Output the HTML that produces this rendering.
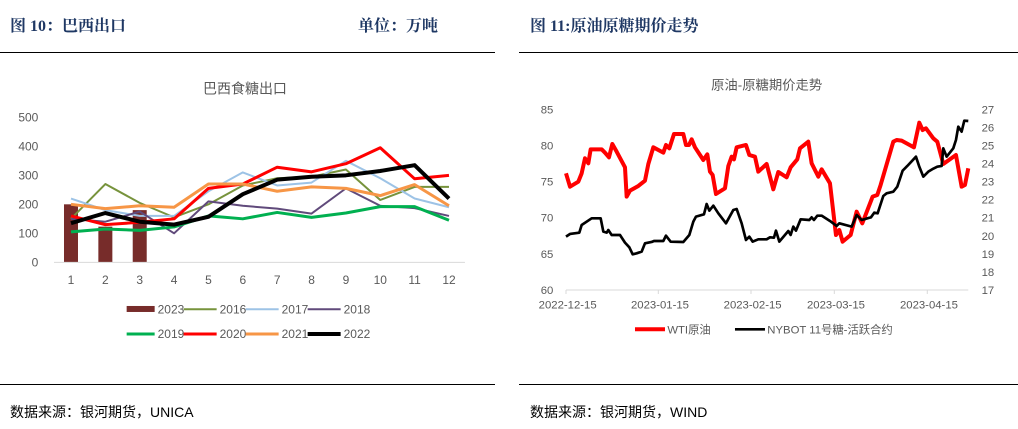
<!DOCTYPE html>
<html><head><meta charset="utf-8"><style>
body{margin:0;background:#fff;width:1018px;height:429px;overflow:hidden}
svg{display:block}
.h{font-family:"Liberation Serif","Noto Serif CJK SC",serif;font-weight:bold;font-size:16px;fill:#1f3864}
.s{font-family:"Liberation Sans","Noto Sans CJK SC",sans-serif;font-size:14px;fill:#000}
.t{font-family:"Liberation Sans","Noto Sans CJK SC",sans-serif;fill:#595959}
</style></head><body>
<svg id="sv" width="1018" height="429" xmlns="http://www.w3.org/2000/svg">
<text class="h" x="10" y="31">图 10：巴西出口</text>
<text class="h" x="358" y="31">单位：万吨</text>
<text class="h" x="530" y="31">图 11:原油原糖期价走势</text>
<line x1="0" y1="52.5" x2="495" y2="52.5" stroke="#000" stroke-width="1"/>
<line x1="519" y1="52.5" x2="1018" y2="52.5" stroke="#000" stroke-width="1"/>
<line x1="0" y1="384.5" x2="495" y2="384.5" stroke="#000" stroke-width="1"/>
<line x1="519" y1="384.5" x2="1018" y2="384.5" stroke="#000" stroke-width="1"/>
<text class="s" x="10" y="417">数据来源：银河期货，UNICA</text>
<text class="s" x="530" y="417">数据来源：银河期货，WIND</text>
<g id="L" transform="translate(0,60) scale(0.3333)"></g>
<g id="R" transform="translate(510,60) scale(0.3333)"></g>
</svg>
<script>
var NS="http://www.w3.org/2000/svg";
function el(p,n,a,txt){var e=document.createElementNS(NS,n);for(var k in a)e.setAttribute(k,a[k]);if(txt!=null)e.textContent=txt;p.appendChild(e);return e;}
var L=document.getElementById("L");
el(L,"text",{class:"t",x:735,y:100,"font-size":42,"text-anchor":"middle",fill:"#404040"},"巴西食糖出口");
for(var i=0;i<=5;i++){var y=607-i*100*0.87;el(L,"text",{class:"t",x:115,y:y+12,"font-size":36,"text-anchor":"end"},String(i*100));}
function mx(m){return 213+(m-1)*103.1}
function vy(v){return 607-v*0.87}
[200,123,180].forEach(function(v,i){el(L,"rect",{x:mx(i+1)-21,y:vy(v),width:42,height:607-vy(v),fill:"#772c2a"});});
el(L,"line",{x1:162,y1:607,x2:1395,y2:607,stroke:"#d9d9d9","stroke-width":3});
for(var m=1;m<=12;m++)el(L,"text",{class:"t",x:mx(m),y:672,"font-size":36,"text-anchor":"middle"},String(m));
var S=[
["#77933c",6,[150,270,205,155,200,265,290,295,320,215,260,260]],
["#9dc3e6",6,[220,180,160,160,245,310,265,275,350,290,220,190]],
["#604a7b",6,[150,140,175,100,210,195,185,168,255,195,187,160]],
["#00b050",9,[105,115,110,122,160,150,172,155,170,192,192,145]],
["#ff0000",9,[160,130,138,150,255,270,328,312,340,395,288,300]],
["#f79646",9,[200,185,195,190,270,270,245,260,255,230,268,195]],
["#000000",12,[135,170,140,130,157,235,285,295,300,315,335,220]]];
S.forEach(function(s){el(L,"polyline",{points:s[2].map(function(v,i){return mx(i+1)+","+vy(v)}).join(" "),fill:"none",stroke:s[0],"stroke-width":s[1],"stroke-linejoin":"round"});});
el(L,"rect",{x:380,y:738,width:84,height:18,fill:"#772c2a"});
var lg=[["2023",null],["2016",0],["2017",1],["2018",2],["2019",3],["2020",4],["2021",5],["2022",6]];
lg.forEach(function(g,i){var r=i<4?0:1,c=i%4;var x0=380+c*186,y=748+r*74;
 if(g[1]!==null)el(L,"line",{x1:x0+(c==0?0:-15),y1:y,x2:x0+84,y2:y,stroke:S[g[1]][0],"stroke-width":S[g[1]][1]});
 el(L,"text",{class:"t",x:x0+93,y:y+12,"font-size":36},g[0]);});
var R=document.getElementById("R");
el(R,"text",{class:"t",x:770,y:88,"font-size":40,"text-anchor":"middle"},"原油-原糖期价走势");
for(var i=0;i<=5;i++){var y=690-i*108.4;el(R,"text",{class:"t",x:130,y:y+12,"font-size":34,"text-anchor":"end"},String(60+i*5));}
for(var i=0;i<=10;i++){var y=690-i*54.2;el(R,"text",{class:"t",x:1415,y:y+12,"font-size":34},String(17+i));}
el(R,"line",{x1:168,y1:690,x2:1375,y2:690,stroke:"#d9d9d9","stroke-width":3});
[[168,"2022-12-15"],[445,"2023-01-15"],[723,"2023-02-15"],[973,"2023-03-15"],[1252,"2023-04-15"]].forEach(function(d){
 el(R,"line",{x1:d[0],y1:690,x2:d[0],y2:702,stroke:"#d9d9d9","stroke-width":3});
 el(R,"text",{class:"t",x:d[0]+5,y:746,"font-size":34,"text-anchor":"middle"},d[1]);});
var red="168,340 180,380 205,365 215,340 225,295 235,310 242,268 275,268 285,278 297,292 307,252 320,275 345,322 350,410 360,392 385,378 405,362 415,312 430,262 460,278 468,255 478,265 492,222 520,222 528,255 537,255 545,238 555,262 580,300 592,283 600,335 608,345 618,402 645,385 655,318 665,290 672,298 680,262 708,255 718,285 735,290 745,335 770,312 790,388 805,336 830,352 842,322 862,298 870,265 895,245 905,310 925,350 935,328 960,370 978,525 988,510 998,545 1022,525 1040,455 1057,490 1088,410 1102,405 1112,375 1150,245 1160,240 1175,242 1212,262 1228,188 1238,210 1248,205 1270,235 1282,245 1300,312 1338,285 1355,380 1365,375 1375,325";
var blk="168,530 180,522 208,518 215,495 245,475 272,475 280,515 290,518 295,510 305,525 330,525 345,548 358,562 368,583 380,580 395,575 405,550 425,546 432,543 460,543 468,527 482,545 520,546 538,525 550,485 558,470 582,463 590,432 598,452 610,437 625,460 648,490 670,450 680,447 695,490 708,540 718,530 728,545 745,538 770,538 780,532 792,533 798,512 808,545 835,513 842,525 850,500 858,512 872,478 898,480 905,472 912,480 922,467 935,467 960,483 980,498 988,490 1025,500 1040,465 1055,480 1083,472 1093,458 1103,460 1120,408 1130,400 1150,395 1162,380 1178,332 1192,318 1218,290 1228,320 1240,350 1255,335 1270,326 1282,320 1295,318 1300,265 1310,290 1330,265 1338,240 1345,200 1355,215 1363,182 1375,183";
el(R,"polyline",{points:red,fill:"none",stroke:"#ff0000","stroke-width":12,"stroke-linejoin":"round"});
el(R,"polyline",{points:blk,fill:"none",stroke:"#000","stroke-width":8,"stroke-linejoin":"round"});
el(R,"line",{x1:375,y1:808,x2:465,y2:808,stroke:"#ff0000","stroke-width":12});
el(R,"text",{class:"t",x:472,y:820,"font-size":34},"WTI原油");
el(R,"line",{x1:675,y1:808,x2:765,y2:808,stroke:"#000","stroke-width":8});
el(R,"text",{class:"t",x:772,y:820,"font-size":34},"NYBOT 11号糖-活跃合约");
</script>
</body></html>
